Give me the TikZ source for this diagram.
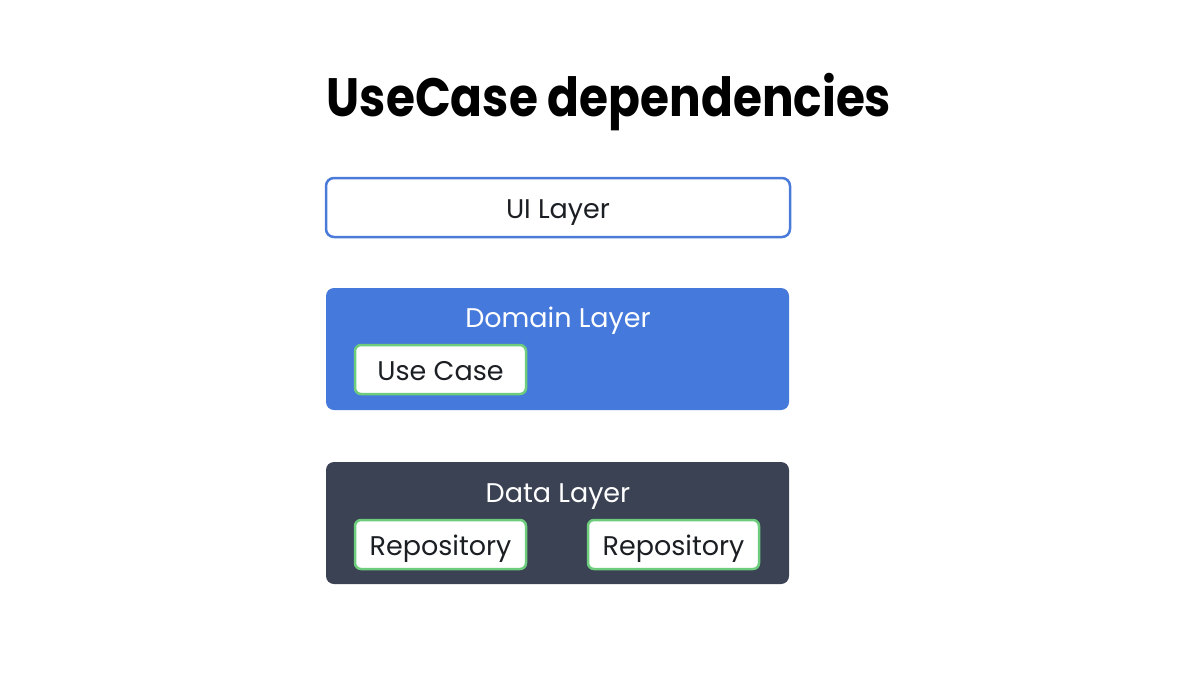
\documentclass[tikz,border=0pt]{standalone}
\usepackage{fontspec}
\setmainfont{Poppins}
\newfontfamily\titlefont{Poppins}[UprightFont=* Bold]
\definecolor{uiblue}{RGB}{74,123,216}
\definecolor{domblue}{RGB}{69,121,220}
\definecolor{dataslate}{RGB}{58,66,84}
\definecolor{boxgreen}{RGB}{110,205,125}
\definecolor{inkdark}{RGB}{27,31,35}
\begin{document}
\begin{tikzpicture}[x=1pt,y=-1pt,
  layerbox/.style={rounded corners=8pt},
  innerbox/.style={draw=boxgreen,line width=2.5pt,fill=white,rounded corners=6pt},
  lbl/.style={font=\fontsize{27}{30}\selectfont,inner sep=0pt,anchor=base},
]
\useasboundingbox[fill=white] (0,0) rectangle (1200,675);
\node[font=\titlefont\fontsize{54}{60}\selectfont,anchor=base,inner sep=0pt] (title) at (609,116) {\scalebox{0.87}[1]{UseCase dependencies}};
% UI layer
\draw[layerbox,draw=uiblue,line width=2.5pt,fill=white] (326,178) rectangle (790,237);
\node[lbl,text=inkdark] (ui) at (558,218) {UI Layer};
% Domain
\fill[layerbox,domblue] (326,288) rectangle (789,410);
\node[lbl,text=white] (dom) at (558,327) {Domain Layer};
\draw[innerbox] (355,345) rectangle (526,394);
\node[lbl,text=inkdark] (uc) at (440.5,380) {Use Case};
% Data
\fill[layerbox,dataslate] (326,462) rectangle (789,584);
\node[lbl,text=white] (data) at (558,502) {Data Layer};
\draw[innerbox] (355,520) rectangle (526,569);
\node[lbl,text=inkdark] (r1) at (440.5,555) {Repository};
\draw[innerbox] (588,520) rectangle (759,569);
\node[lbl,text=inkdark] (r2) at (673.5,555) {Repository};
\end{tikzpicture}
\end{document}
